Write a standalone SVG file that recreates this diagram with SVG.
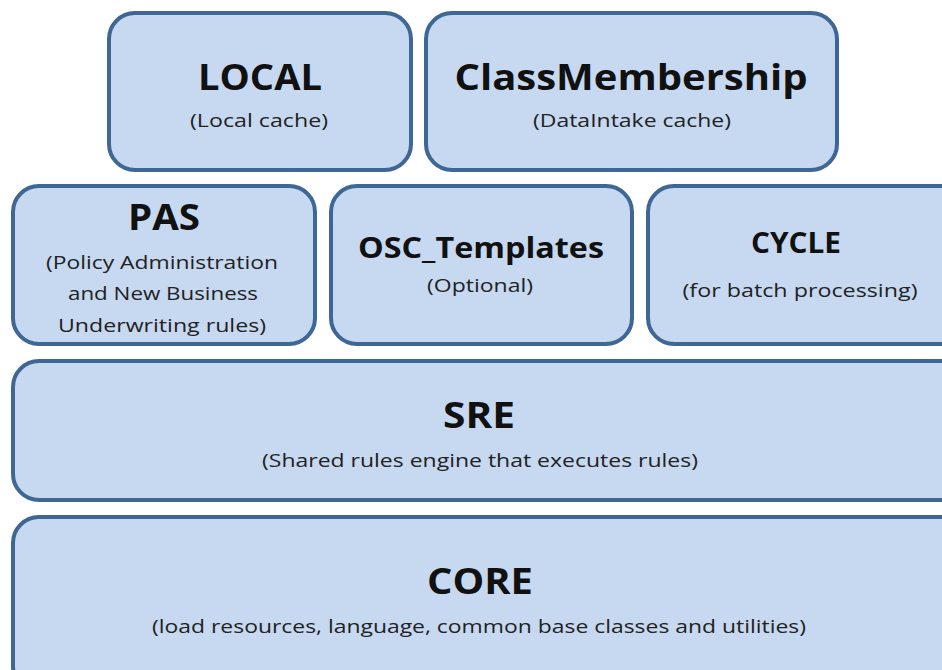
<svg xmlns="http://www.w3.org/2000/svg" width="942" height="670" viewBox="0 0 942 670">
<style>
.box{fill:#c6d9f0;stroke:#3e6795;stroke-width:4}
.t{font-family:"Open Sans","Liberation Sans",sans-serif;font-weight:bold;fill:#111;text-anchor:middle}
.s{font-family:"Open Sans","Liberation Sans",sans-serif;fill:#222;text-anchor:middle;font-size:19px}
</style>
<rect width="942" height="670" fill="#fff"/>
<g id="local">
<rect class="box" x="109" y="13" width="302" height="157" rx="26"/>
<text class="t" x="260" y="90" font-size="36" textLength="124" lengthAdjust="spacingAndGlyphs">LOCAL</text>
<text class="s" x="259" y="127" textLength="138" lengthAdjust="spacingAndGlyphs">(Local cache)</text>
</g>
<g id="classmembership">
<rect class="box" x="426" y="13" width="411" height="157" rx="26"/>
<text class="t" x="631" y="90" font-size="36" textLength="353" lengthAdjust="spacingAndGlyphs">ClassMembership</text>
<text class="s" x="632" y="127" textLength="198" lengthAdjust="spacingAndGlyphs">(DataIntake cache)</text>
</g>
<g id="pas">
<rect class="box" x="13" y="186" width="302" height="158" rx="26"/>
<text class="t" x="164" y="230" font-size="36" textLength="72" lengthAdjust="spacingAndGlyphs">PAS</text>
<text class="s" x="162" y="269" textLength="232" lengthAdjust="spacingAndGlyphs">(Policy Administration</text>
<text class="s" x="163" y="300" textLength="190" lengthAdjust="spacingAndGlyphs">and New Business</text>
<text class="s" x="162" y="332" textLength="208" lengthAdjust="spacingAndGlyphs">Underwriting rules)</text>
</g>
<g id="osc_templates">
<rect class="box" x="331" y="186" width="301" height="158" rx="26"/>
<text class="t" x="481" y="258" font-size="28" textLength="246" lengthAdjust="spacingAndGlyphs">OSC_Templates</text>
<text class="s" x="480" y="292" textLength="106" lengthAdjust="spacingAndGlyphs">(Optional)</text>
</g>
<g id="cycle">
<rect class="box" x="648" y="186" width="320" height="158" rx="26"/>
<text class="t" x="796" y="253" font-size="28" textLength="90" lengthAdjust="spacingAndGlyphs">CYCLE</text>
<text class="s" x="800" y="297" textLength="235" lengthAdjust="spacingAndGlyphs">(for batch processing)</text>
</g>
<g id="sre">
<rect class="box" x="13" y="361" width="955" height="139" rx="26"/>
<text class="t" x="479" y="428" font-size="36" textLength="72" lengthAdjust="spacingAndGlyphs">SRE</text>
<text class="s" x="480" y="467" textLength="436" lengthAdjust="spacingAndGlyphs">(Shared rules engine that executes rules)</text>
</g>
<g id="core">
<rect class="box" x="13" y="517" width="955" height="175" rx="26"/>
<text class="t" x="480" y="594" font-size="36" textLength="106" lengthAdjust="spacingAndGlyphs">CORE</text>
<text class="s" x="479" y="633" textLength="654" lengthAdjust="spacingAndGlyphs">(load resources, language,  common base classes and utilities)</text>
</g>
<g id="connectors"/>
</svg>
